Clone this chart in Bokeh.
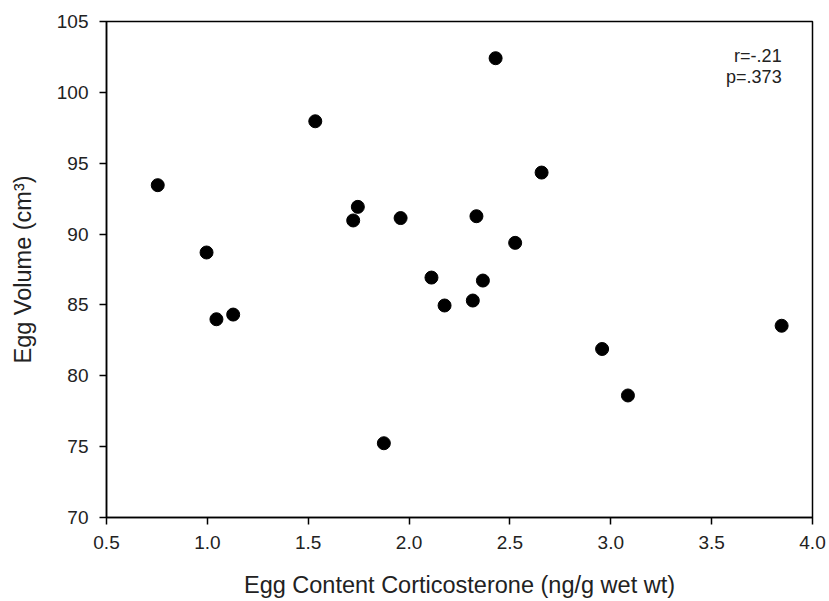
from bokeh.plotting import figure
from bokeh.models import Range1d, FixedTicker, Label
from bokeh.embed import file_html
from bokeh.resources import INLINE

# Data
cort = [0.754, 0.996, 1.045, 1.128, 1.535, 1.746, 1.723, 1.958, 1.875, 2.429,
        2.657, 2.334, 2.526, 2.111, 2.366, 2.176, 2.316, 2.957, 3.085, 3.847]
volume = [93.45, 88.70, 83.99, 84.32, 97.96, 91.92, 90.96, 91.13, 75.24, 102.41,
          94.34, 91.26, 89.38, 86.93, 86.72, 84.96, 85.31, 81.89, 78.61, 83.53]

x_ticks = [0.5, 1.0, 1.5, 2.0, 2.5, 3.0, 3.5, 4.0]
x_tick_labels = ["0.5", "1.0", "1.5", "2.0", "2.5", "3.0", "3.5", "4.0"]
y_ticks = [70, 75, 80, 85, 90, 95, 100, 105]
y_tick_labels = ["70", "75", "80", "85", "90", "95", "100", "105"]

stats_lines = ["r=-.21", "p=.373"]

FONT = "Liberation Sans"
TXT = "#222222"

p = figure(width=829, height=601, frame_width=706, frame_height=496,
           output_backend="svg", toolbar_location=None,
           x_range=Range1d(0.5, 4.0), y_range=Range1d(70, 105),
           min_border_left=106, min_border_top=21, min_border_right=17,
           min_border_bottom=84)

p.background_fill_color = "white"
p.border_fill_color = "white"
p.outline_line_color = "black"
p.outline_line_width = 1.5
p.xgrid.visible = False
p.ygrid.visible = False

p.scatter(cort, volume, size=13, color="black")

for ax in (p.xaxis[0], p.yaxis[0]):
    ax.axis_line_color = "black"
    ax.axis_line_width = 1.5
    ax.major_tick_line_color = "black"
    ax.major_tick_line_width = 1.5
    ax.major_tick_in = 0
    ax.major_tick_out = 7
    ax.minor_tick_line_color = None
    ax.major_label_text_font = FONT
    ax.major_label_text_font_size = "19px"
    ax.major_label_text_color = TXT
    ax.axis_label_text_font = FONT
    ax.axis_label_text_font_size = "23.5px"
    ax.axis_label_text_font_style = "normal"
    ax.axis_label_text_color = TXT
    ax.major_label_standoff = 11

p.xaxis.ticker = FixedTicker(ticks=x_ticks)
p.xaxis.major_label_overrides = {t: l for t, l in zip(x_ticks, x_tick_labels)}
p.yaxis.ticker = FixedTicker(ticks=y_ticks)
p.yaxis.major_label_overrides = {t: l for t, l in zip(y_ticks, y_tick_labels)}

p.xaxis.axis_label = "Egg Content Corticosterone (ng/g wet wt)"
p.yaxis.axis_label = "Egg Volume (cm\u00b3)"
p.xaxis.axis_label_standoff = 20
p.yaxis.axis_label_standoff = 18

for i, line in enumerate(stats_lines):
    p.add_layout(Label(x=3.847, y=102.6 - i * 1.55, text=line,
                       text_align="right", text_baseline="alphabetic",
                       text_font=FONT, text_font_size="18px", text_color=TXT))

open("out.html", "w").write(file_html(p, INLINE))
